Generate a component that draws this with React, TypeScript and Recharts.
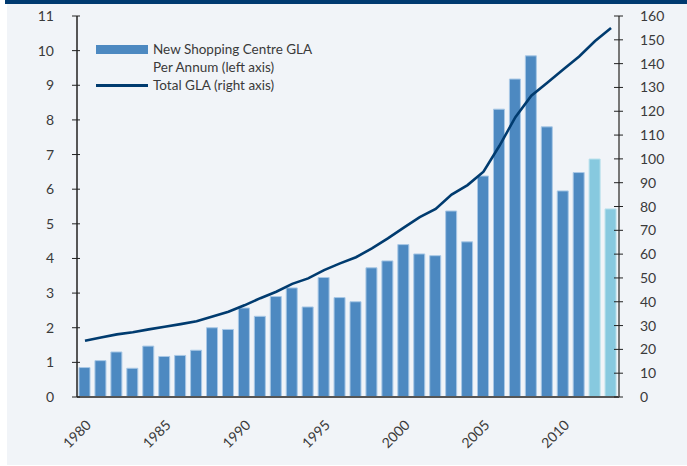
import React from "react";
import { ComposedChart, Bar, Line, XAxis, YAxis, Cell } from "recharts";

const years = [
  "1980","1981","1982","1983","1984","1985","1986","1987","1988","1989",
  "1990","1991","1992","1993","1994","1995","1996","1997","1998","1999",
  "2000","2001","2002","2003","2004","2005","2006","2007","2008","2009",
  "2010","2011","2012","2013",
];
const newGla = [
  0.85, 1.05, 1.3, 0.83, 1.47, 1.17, 1.2, 1.35, 2.0, 1.95,
  2.57, 2.33, 2.9, 3.15, 2.6, 3.45, 2.87, 2.75, 3.73, 3.93,
  4.4, 4.13, 4.08, 5.37, 4.48, 6.38, 8.31, 9.18, 9.85, 7.8,
  5.95, 6.48, 6.87, 5.43,
];
const totalGla = [
  23.6, 25.0, 26.3, 27.2, 28.4, 29.5, 30.6, 31.8, 33.8, 35.8,
  38.5, 41.5, 44.2, 47.5, 49.8, 53.3, 56.1, 58.7, 62.4, 66.6,
  71.1, 75.5, 79.0, 85.0, 89.0, 94.6, 105.5, 117.5, 126.5, 132.0,
  137.5, 143.0, 149.5, 155.0,
];
const forecastYears = ["2012", "2013"];
const leftTicks = [0,1,2,3,4,5,6,7,8,9,10,11];
const rightTicks = [0,10,20,30,40,50,60,70,80,90,100,110,120,130,140,150,160];
const legendBarLabel = ["New Shopping Centre GLA", "Per Annum (left axis)"];
const legendLineLabel = "Total GLA (right axis)";

const data = years.map((y, i) => ({ year: y, newGla: newGla[i], totalGla: totalGla[i] }));

const FONT = "Lato, 'Open Sans', sans-serif";
const TEXT = "#3a3a3a";
const BAR = "#4d89c1";
const BAR_LIGHT = "#87c9df";
const LINE = "#003b6f";

const LeftTick = (props: any) => {
  const { x, y, payload } = props;
  return (
    <g>
      <line x1={x - 5} x2={x + 3} y1={y} y2={y} stroke="#222" strokeWidth={1} />
      <text x={x - 23} y={y} dy={5} textAnchor="end" fill={TEXT} fontSize={14} fontFamily={FONT}>
        {payload.value}
      </text>
    </g>
  );
};

const RightTick = (props: any) => {
  const { x, y, payload } = props;
  return (
    <g>
      <line x1={x - 5} x2={x + 4} y1={y} y2={y} stroke="#222" strokeWidth={1} />
      <text x={x + 21} y={y} dy={5} textAnchor="start" fill={TEXT} fontSize={14} fontFamily={FONT}>
        {payload.value}
      </text>
    </g>
  );
};

const XTick = (props: any) => {
  const { x, y, payload } = props;
  const ax = x + 7;
  const ay = y + 29;
  return (
    <text x={ax} y={ay} textAnchor="end" fill={TEXT} fontSize={14} fontFamily={FONT}
      transform={`rotate(-45 ${ax} ${ay})`}>
      {payload.value}
    </text>
  );
};

const LegendBox = () => (
  <div style={{ position: "absolute", left: 96, top: 40, width: 260, height: 60, fontFamily: FONT, color: TEXT, fontSize: 13.5 }}>
    <div style={{ position: "absolute", left: 0, top: 5, width: 52, height: 9, background: BAR }} />
    <div style={{ position: "absolute", left: 57, top: 0, lineHeight: "18px", whiteSpace: "nowrap" }}>
      <div>{legendBarLabel[0]}</div>
      <div>{legendBarLabel[1]}</div>
      <div>{legendLineLabel}</div>
    </div>
    <div style={{ position: "absolute", left: 0, top: 44, width: 52, height: 3, background: LINE }} />
  </div>
);

export default function App() {
  return (
    <div style={{ position: "absolute", left: 0, top: 0, width: 687, height: 466, background: "#ffffff" }}>
      <div style={{ position: "absolute", left: 7, top: 0, width: 680, height: 465, background: "#f1f4f8" }} />
      <div style={{ position: "absolute", left: 5, top: 0, width: 682, height: 4, background: "#003a70" }} />
      <div style={{ position: "absolute", left: 0, top: 0 }}>
        <ComposedChart width={687} height={466} data={data}
          margin={{ top: 16, right: 0, bottom: 0, left: 0 }} barCategoryGap={2}>
          <XAxis dataKey="year" height={69} interval={4} tickLine={false} tickSize={0} tickMargin={0}
            axisLine={{ stroke: "#555", strokeWidth: 2 }} tick={<XTick />} />
          <YAxis yAxisId="left" orientation="left" width={77} domain={[0, 11]} ticks={leftTicks}
            tickSize={0} tickMargin={0} tickLine={false} axisLine={{ stroke: "#222", strokeWidth: 1.5 }}
            tick={<LeftTick />} interval={0} allowDataOverflow />
          <YAxis yAxisId="right" orientation="right" width={68} domain={[0, 160]} ticks={rightTicks}
            tickSize={0} tickMargin={0} tickLine={false} axisLine={{ stroke: "#777", strokeWidth: 2 }}
            tick={<RightTick />} interval={0} allowDataOverflow />
          <Bar yAxisId="left" dataKey="newGla" barSize={11} isAnimationActive={false}
            stroke="#a9c8e6" strokeWidth={1}>
            {data.map((d) => (
              <Cell key={d.year} fill={forecastYears.includes(d.year) ? BAR_LIGHT : BAR}
                stroke={forecastYears.includes(d.year) ? "#b8e0ec" : "#a9c8e6"} />
            ))}
          </Bar>
          <Line yAxisId="right" dataKey="totalGla" type="linear" stroke={LINE} strokeWidth={2.6}
            dot={false} isAnimationActive={false} />
        </ComposedChart>
      </div>
      <LegendBox />
    </div>
  );
}
